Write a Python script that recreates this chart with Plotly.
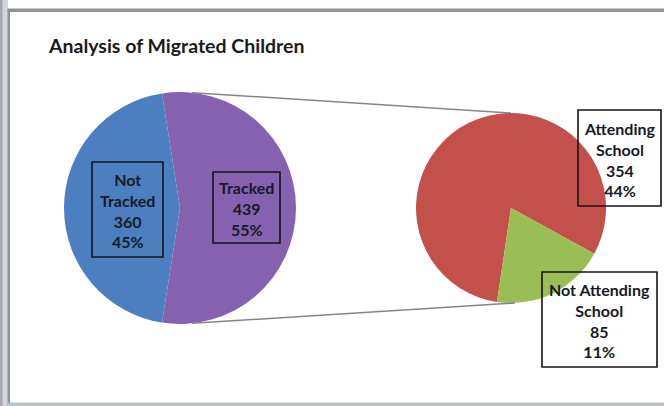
import math
import plotly.graph_objects as go

W, H = 664, 406

# Primary split
main_labels = ["Tracked", "Not Tracked"]
main_values = [439, 360]
main_colors = ["#8661B0", "#4C7FC0"]

# Breakdown of the tracked group
sub_labels = ["Attending School", "Not Attending School"]
sub_values = [354, 85]
sub_colors = ["#C4504C", "#99BE55"]

title_text = "Analysis of Migrated Children"


def px(x):
    return x / W


def py(y):
    return 1 - y / H


# pie geometry in pixels
L_CX, L_CY, L_R = 180, 208, 116
R_CX, R_CY, R_R = 511, 208, 95

total = sum(main_values)
tracked_share = main_values[0] / total

fig = go.Figure()

fig.add_trace(go.Pie(
    labels=main_labels, values=main_values, sort=False, direction="clockwise",
    rotation=90 - tracked_share * 180,
    marker=dict(colors=main_colors, line=dict(width=0)),
    textinfo="none", showlegend=False,
    domain=dict(x=[px(L_CX - L_R), px(L_CX + L_R)], y=[py(L_CY + L_R), py(L_CY - L_R)]),
))

fig.add_trace(go.Pie(
    labels=sub_labels, values=sub_values, sort=False, direction="clockwise",
    rotation=188.5,
    marker=dict(colors=sub_colors, line=dict(width=0)),
    textinfo="none", showlegend=False,
    domain=dict(x=[px(R_CX - R_R), px(R_CX + R_R)], y=[py(R_CY + R_R), py(R_CY - R_R)]),
))

shapes = []

# chart frame
shapes += [
    dict(type="rect", x0=px(0), x1=px(8), y0=py(406), y1=py(0), fillcolor="#d3d7dc", line=dict(width=0)),
    dict(type="rect", x0=px(0), x1=px(2.5), y0=py(406), y1=py(0), fillcolor="#a3a8ae", line=dict(width=0)),
    dict(type="rect", x0=px(7.5), x1=px(10), y0=py(406), y1=py(9), fillcolor="#8e9399", line=dict(width=0)),
    dict(type="rect", x0=px(7.5), x1=px(664), y0=py(12), y1=py(8.5), fillcolor="#8e9399", line=dict(width=0)),
    dict(type="rect", x0=px(7.5), x1=px(664), y0=py(406), y1=py(402.5), fillcolor="#b9c3cc", line=dict(width=0)),
]

# series lines joining the two pies
ang = math.radians(6)
lx_top = L_CX + L_R * math.sin(ang)
ly_top = L_CY - L_R * math.cos(ang)
ly_bot = L_CY + L_R * math.cos(ang)
shapes += [
    dict(type="line", x0=px(lx_top), y0=py(ly_top), x1=px(R_CX), y1=py(R_CY - R_R),
         line=dict(color="#858585", width=1.5)),
    dict(type="line", x0=px(lx_top), y0=py(ly_bot), x1=px(R_CX + 4), y1=py(R_CY + R_R),
         line=dict(color="#858585", width=1.5)),
]

# label boxes: (x0, y0, x1, y1) in pixels
boxes = [
    (92, 162, 163, 257),
    (213, 172, 280, 243),
    (578, 110, 661, 206),
    (542, 272, 657, 367),
]
for x0, y0, x1, y1 in boxes:
    shapes.append(dict(type="rect", x0=px(x0), x1=px(x1), y0=py(y1), y1=py(y0),
                       line=dict(color="#141414", width=1.6), fillcolor="rgba(0,0,0,0)"))

label_texts = [
    f"Not<br>Tracked<br>{main_values[1]}<br>{round(main_values[1] / total * 100)}%",
    f"Tracked<br>{main_values[0]}<br>{round(main_values[0] / total * 100)}%",
    f"Attending<br>School<br>{sub_values[0]}<br>{round(sub_values[0] / total * 100)}%",
    f"Not Attending<br>School<br>{sub_values[1]}<br>{round(sub_values[1] / total * 100)}%",
]

annotations = [
    dict(text=f"<b>{title_text}</b>", x=px(46), y=py(45), xref="paper", yref="paper",
         xanchor="left", yanchor="middle", showarrow=False,
         font=dict(family="Lato", size=19.5, color="#1a1a1a")),
]
for (x0, y0, x1, y1), t in zip(boxes, label_texts):
    annotations.append(dict(
        text=f"<b>{t}</b>", x=px((x0 + x1) / 2), y=py((y0 + y1) / 2 + 1),
        xref="paper", yref="paper", xanchor="center", yanchor="middle",
        showarrow=False, align="center",
        font=dict(family="Lato", size=16, color="#161a26"),
    ))

fig.update_layout(
    width=W, height=H, margin=dict(l=0, r=0, t=0, b=0),
    paper_bgcolor="white", plot_bgcolor="white",
    shapes=shapes, annotations=annotations,
)

fig.write_html("out.html")
